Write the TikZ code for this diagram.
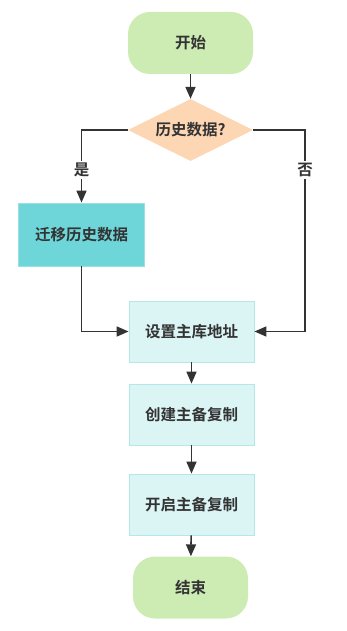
\documentclass[tikz,border=0pt]{standalone}
\usepackage{fontspec}
\setmainfont{Noto Sans CJK SC Bold}
\usetikzlibrary{shapes.geometric,arrows.meta}
\definecolor{termfill}{HTML}{CCECB4}
\definecolor{decfill}{HTML}{FDD6B4}
\definecolor{tealfill}{HTML}{6ED6D8}
\definecolor{lightfill}{HTML}{DBF4F4}
\definecolor{lightdraw}{HTML}{B4E6EA}
\definecolor{ink}{HTML}{333333}
\tikzset{
  txt/.style={font=\fontsize{15.5}{17}\selectfont, text=ink},
  terminal/.style={txt, rectangle, rounded corners=22pt, fill=termfill, minimum height=62pt, inner sep=0pt},
  decision/.style={txt, diamond, fill=decfill, minimum width=125pt, minimum height=62pt, inner sep=0pt, aspect=2},
  procbox/.style={txt, rectangle, fill=lightfill, draw=lightdraw, line width=0.8pt, minimum width=125pt, minimum height=61pt, inner sep=0pt},
  migbox/.style={txt, rectangle, fill=tealfill, draw=lightdraw!60!tealfill, line width=0.8pt, minimum width=126pt, minimum height=63pt, inner sep=0pt},
  conn/.style={draw=ink, line width=1.6pt, -{Triangle[length=12pt,width=10pt]}},
  lbl/.style={txt, fill=white, inner sep=2pt}
}
\begin{document}
\begin{tikzpicture}[x=1pt,y=-1pt]
\useasboundingbox (0,0) rectangle (346,631);
\node[terminal, minimum width=125pt] (start) at (190.5,43) {开始};
\node[decision] (dec) at (190.5,130) {历史数据?};
\node[migbox] (mig) at (81.5,234.5) {迁移历史数据};
\node[procbox] (addr) at (191.5,331.5) {设置主库地址};
\node[procbox] (create) at (191.5,414.5) {创建主备复制};
\node[procbox] (enable) at (191.5,504.5) {开启主备复制};
\node[terminal, minimum width=115pt] (end) at (190.5,587.5) {结束};
\coordinate (lc) at (81.5,130);
\coordinate (rc) at (305,130);
\coordinate (rb) at (305,331.5);
\coordinate (mb) at (81.5,331.5);
\draw[conn] (start) -- (dec);
\draw[conn] (dec.west) -- (lc) -- node[lbl, pos=0.55] {是} (mig.north);
\draw[conn] (dec.east) -- (rc) -- node[lbl, pos=0.2] {否} (rb) -- (addr.east);
\draw[conn] (mig.south) -- (mb) -- (addr.west);
\draw[conn] (addr) -- (create);
\draw[conn] (create) -- (enable);
\draw[conn] (enable) -- (end);
\end{tikzpicture}
\end{document}
